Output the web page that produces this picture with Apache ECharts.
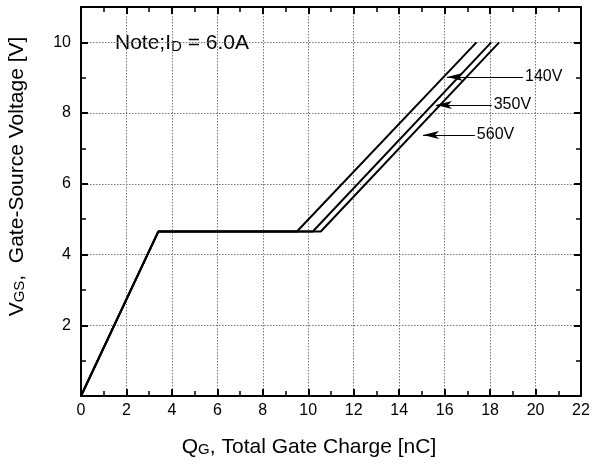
<!DOCTYPE html>
<html><head><meta charset="utf-8">
<script src="https://cdn.jsdelivr.net/npm/echarts@6/dist/echarts.min.js"></script>
<style>html,body{margin:0;padding:0;background:#fff}#c{width:599px;height:466px}</style>
</head><body><div id="c"></div>
<script>
// Data
var curve140 = [[0,0],[3.4,4.65],[9.5,4.65],[17.4,10]];
var curve350 = [[0,0],[3.4,4.65],[10.2,4.65],[18.05,10]];
var curve560 = [[0,0],[3.4,4.65],[10.55,4.65],[18.4,10]];
var arrowLabels = ['140V','350V','560V'];
var arrowY = [9.02, 8.23, 7.38];
var arrowFrom = [19.45, 18.07, 17.33];
var arrowTo = [16.1, 15.62, 15.05];
var xTicks = [0,2,4,6,8,10,12,14,16,18,20,22];
var yTicks = [0,2,4,6,8,10];

var FONT = '"Liberation Sans", Arial, sans-serif';
var chart = echarts.init(document.getElementById('c'), null, {renderer:'canvas'});

function axisCommon(show){
  return {
    axisLine:{show:true,onZero:false,lineStyle:{color:'#000',width:2}},
    axisTick:{show:true,inside:true,length:7,lineStyle:{color:'#000',width:2}},
    minorTick:{show:true,splitNumber:2,length:5,lineStyle:{color:'#000',width:1.5}},
    splitLine:{show:show,lineStyle:{color:'#777',type:[1.5,1.5],width:1}},
    minorSplitLine:{show:false}
  };
}

var mlData = arrowLabels.map(function(l,i){
  return [{coord:[arrowFrom[i],arrowY[i]], name:l},{coord:[arrowTo[i],arrowY[i]]}];
});

var nameRich = {m:{fontSize:21,fontFamily:FONT,color:'#000'},s:{fontSize:15,fontFamily:FONT,color:'#000',padding:[5,0,0,0]}};

var option = {
  animation:false,
  backgroundColor:'#fff',
  grid:{left:81,right:18,top:7,bottom:70,containLabel:false,outerBoundsMode:'none'},
  xAxis:[
    Object.assign({type:'value',min:0,max:22,interval:2,position:'bottom',
      name:'{m|Q}{s|G}{m|, Total Gate Charge [nC]}',nameLocation:'middle',nameGap:41,
      nameTextStyle:{rich:nameRich,padding:[0,44,0,0]},
      axisLabel:{color:'#000',fontSize:16,fontFamily:FONT,margin:7}},axisCommon(true)),
    Object.assign({type:'value',min:0,max:22,interval:2,position:'top',axisLabel:{show:false}},axisCommon(false))
  ],
  yAxis:[
    Object.assign({type:'value',min:0,max:11,interval:2,position:'left',
      name:'{m|V}{s|GS}{m|,  Gate-Source Voltage [V]}',nameLocation:'middle',nameGap:53,nameRotate:90,
      nameTextStyle:{rich:nameRich,padding:[0,0,0,50]},
      axisLabel:{color:'#000',fontSize:16,fontFamily:FONT,margin:10,showMaxLabel:false,
        formatter:function(v){return v===0?'':String(v);}}},axisCommon(true)),
    Object.assign({type:'value',min:0,max:11,interval:2,position:'right',axisLabel:{show:false}},axisCommon(false))
  ],
  series:[
    {type:'line',data:curve140,symbol:'none',lineStyle:{color:'#000',width:2},
     markLine:{silent:true,symbol:['none','arrow'],symbolSize:[6,16],
       lineStyle:{color:'#000',width:1.2,type:'solid'},
       label:{show:true,position:'start',distance:2,formatter:'{b}',color:'#000',fontSize:16,fontFamily:FONT},
       data:mlData}},
    {type:'line',data:curve350,symbol:'none',lineStyle:{color:'#000',width:2}},
    {type:'line',data:curve560,symbol:'none',lineStyle:{color:'#000',width:2}}
  ],
  graphic:[{type:'text',left:115,top:33,style:{
    text:'{m|Note;I}{s|D}{m| = 6.0A}',
    rich:{m:{fontSize:21,fontFamily:FONT,fill:'#000'},s:{fontSize:15,fontFamily:FONT,fill:'#000',padding:[6,0,0,0]}}
  }}]
};
chart.setOption(option);
</script></body></html>
